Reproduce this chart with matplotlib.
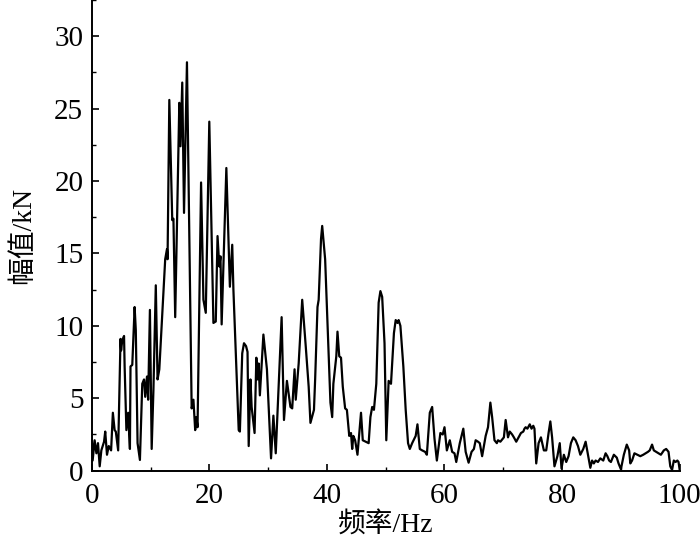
import matplotlib
matplotlib.use("Agg")
import matplotlib.pyplot as plt
from matplotlib.ticker import MultipleLocator

freq = [0.0, 0.16, 0.5, 0.8, 1.07, 1.36, 1.64, 2.1, 2.3, 2.6, 2.9, 3.3, 3.6, 3.9, 4.1, 4.5,
        4.9, 5.0, 5.2, 5.5, 5.6, 5.9, 6.2, 6.5, 6.6, 6.9, 7.3, 7.5, 7.8, 8.2, 8.6, 8.9,
        9.1, 9.4, 9.6, 9.9, 10.2, 10.5, 10.9, 11.2, 11.5, 12.5, 12.8, 12.9, 13.2, 13.7,
        13.9, 14.2, 14.9, 15.1, 15.4, 15.7, 16.2, 17.0, 17.3, 17.6, 17.8, 18.0, 18.6,
        19.0, 19.4, 20.0, 20.7, 21.1, 21.4, 21.7, 21.9, 22.1, 22.9, 23.5, 23.9, 24.1,
        25.0, 25.2, 25.6, 25.9, 26.25, 26.5, 26.7, 27.0, 27.2, 27.7, 28.0, 28.2, 28.4,
        28.6, 29.2, 29.8, 30.5, 30.9, 31.3, 32.3, 32.7, 33.2, 33.8, 34.1, 34.5, 34.7,
        35.2, 35.8, 36.4, 36.9, 37.2, 37.8, 38.0, 38.4, 38.6, 39.0, 39.2, 39.7, 40.6,
        40.9, 41.1, 41.6, 41.8, 42.1, 42.4, 42.7, 43.1, 43.4, 43.8, 44.1, 44.3, 44.5,
        44.8, 45.2, 45.8, 46.1, 46.6, 47.1, 47.4, 47.7, 48.0, 48.4, 48.8, 49.1, 49.4,
        49.8, 50.1, 50.5, 50.9, 51.4, 51.7, 52.0, 52.2, 52.5, 53.0, 53.4, 53.8, 54.1,
        54.5, 55.1, 55.4, 55.8, 56.2, 56.7, 57.0, 57.5, 57.9, 58.3, 58.7, 59.3, 59.7,
        60.0, 60.4, 60.9, 61.3, 61.7, 62.0, 62.6, 63.2, 63.6, 64.1, 64.6, 65.0, 65.3,
        65.7, 66.0, 66.4, 67.0, 67.4, 67.8, 68.1, 68.5, 68.9, 69.1, 69.5, 70.1, 70.4,
        70.8, 71.1, 71.5, 71.8, 72.2, 72.6, 73.0, 73.4, 73.6, 73.8, 74.1, 74.5, 74.8,
        75.1, 75.3, 75.6, 76.0, 76.4, 76.9, 77.3, 77.7, 78.0, 78.3, 78.7, 79.2, 79.6,
        79.9, 80.3, 80.7, 81.1, 81.5, 81.9, 82.3, 82.7, 83.1, 83.6, 84.0, 84.4, 84.8,
        85.1, 85.4, 85.7, 86.1, 86.5, 87.0, 87.4, 87.7, 88.0, 88.3, 88.8, 89.3, 89.6,
        90.0, 90.5, 91.0, 91.4, 91.6, 91.9, 92.3, 92.8, 93.3, 93.8, 94.2, 94.6, 94.9,
        95.3, 95.6, 96.0, 96.4, 96.8, 97.3, 97.7, 98.1, 98.4, 98.7, 99.0, 99.3, 99.6,
        99.8, 100.0]

amp = [2.6, 0.7, 2.1, 1.2, 1.9, 0.3, 1.4, 2.0, 2.7, 1.1, 1.7, 1.4, 4.0, 2.8, 2.7, 1.4,
       9.1, 8.3, 9.0, 9.3, 7.2, 2.8, 4.0, 1.5, 7.2, 7.3, 11.3, 9.7, 1.9, 0.74, 6.0, 6.3,
       5.1, 6.5, 4.9, 11.1, 1.5, 5.6, 12.8, 6.3, 7.0, 14.6, 15.3, 14.6, 25.6, 17.3,
       17.4, 10.6, 25.4, 22.4, 26.8, 17.8, 28.2, 4.3, 4.9, 2.8, 3.7, 3.0, 19.9,
       11.8, 10.9, 24.1, 10.2, 10.3, 16.2, 14.1, 14.8, 10.1, 20.9, 12.7, 15.6, 12.5,
       2.8, 2.7, 8.1, 8.8, 8.6, 8.2, 1.7, 6.3, 4.4, 2.6, 7.8, 6.3, 7.4,
       5.2, 9.4, 7.0, 0.85, 3.8, 1.2, 10.6, 3.5, 6.2, 4.4, 4.3, 7.0, 4.9,
       7.4, 11.8, 8.6, 5.8, 3.3, 4.2, 6.3, 11.3, 11.8, 16.0, 16.9, 14.6, 4.7,
       3.7, 6.0, 7.9, 9.6, 7.9, 7.8, 5.8, 4.3, 4.2, 2.4, 2.6, 1.5, 2.4,
       2.1, 1.1, 4.0, 2.1, 2.0, 1.9, 3.7, 4.4, 4.2, 6.0, 11.6, 12.4, 12.0,
       8.8, 2.1, 6.2, 6.0, 9.5, 10.4, 10.2, 10.4, 10.0, 7.2, 4.2, 1.9, 1.5,
       1.9, 2.4, 3.2, 1.5, 1.4, 1.3, 1.1, 4.0, 4.4, 2.2, 0.7, 2.6, 2.5,
       3.0, 1.4, 2.1, 1.3, 1.2, 0.6, 1.9, 2.9, 1.3, 0.55, 1.3, 1.5, 2.1,
       2.0, 1.9, 1.0, 2.4, 3.0, 4.7, 3.7, 2.1, 1.9, 2.1, 2.0, 2.3, 3.5,
       2.3, 2.7, 2.5, 2.3, 2.0, 2.3, 2.6, 2.7, 2.9, 3.0, 2.9, 3.2, 2.9,
       3.1, 2.9, 0.5, 1.9, 2.3, 1.4, 1.4, 2.6, 3.4, 2.3, 0.3, 1.0, 1.9,
       0.15, 1.1, 0.6, 1.0, 1.9, 2.3, 2.1, 1.7, 1.1, 1.5, 2.0, 1.1, 0.2,
       0.7, 0.5, 0.7, 0.6, 0.85, 0.7, 1.2, 1.0, 0.7, 0.6, 1.1, 0.9, 0.5,
       0.1, 1.1, 1.8, 1.4, 0.5, 0.7, 1.2, 1.1, 1.0, 1.1, 1.2, 1.3, 1.4,
       1.8, 1.4, 1.3, 1.2, 1.1, 1.4, 1.5, 1.3, 0.3, 0.05, 0.7, 0.6, 0.7,
       0.6, 0.05]

x_ticks = [0, 20, 40, 60, 80, 100]
y_ticks = [0, 5, 10, 15, 20, 25, 30]
x_label = "频率/Hz"
y_label = "幅值/kN"

fam = ["Liberation Serif", "Noto Sans CJK SC"]
plt.rcParams["font.family"] = fam

fig = plt.figure(figsize=(7.0, 5.58), dpi=100)
ax = fig.add_axes([0.131, 0.1565, 0.840, 0.8435])
ax.plot(freq, amp, color="black", linewidth=1.6)

ax.set_xlim(0, 100)
ax.set_ylim(0, 32.5)
ax.set_xticks(x_ticks)
ax.set_yticks(y_ticks)
ax.xaxis.set_minor_locator(MultipleLocator(10))
ax.yaxis.set_minor_locator(MultipleLocator(2.5))
ax.tick_params(which="major", direction="in", length=5, width=1.2, labelsize=21, pad=6)
ax.tick_params(axis="x", which="major", pad=9)
ax.tick_params(which="minor", direction="in", length=3, width=1.0)
ax.tick_params(top=False, right=False)
for s in ["top", "right"]:
    ax.spines[s].set_visible(False)
for s in ["left", "bottom"]:
    ax.spines[s].set_linewidth(1.4)

ax.set_xlabel(x_label, fontsize=20, labelpad=2)
ax.set_ylabel(y_label, fontsize=20, labelpad=13)

fig.savefig("out.png", dpi=100)
